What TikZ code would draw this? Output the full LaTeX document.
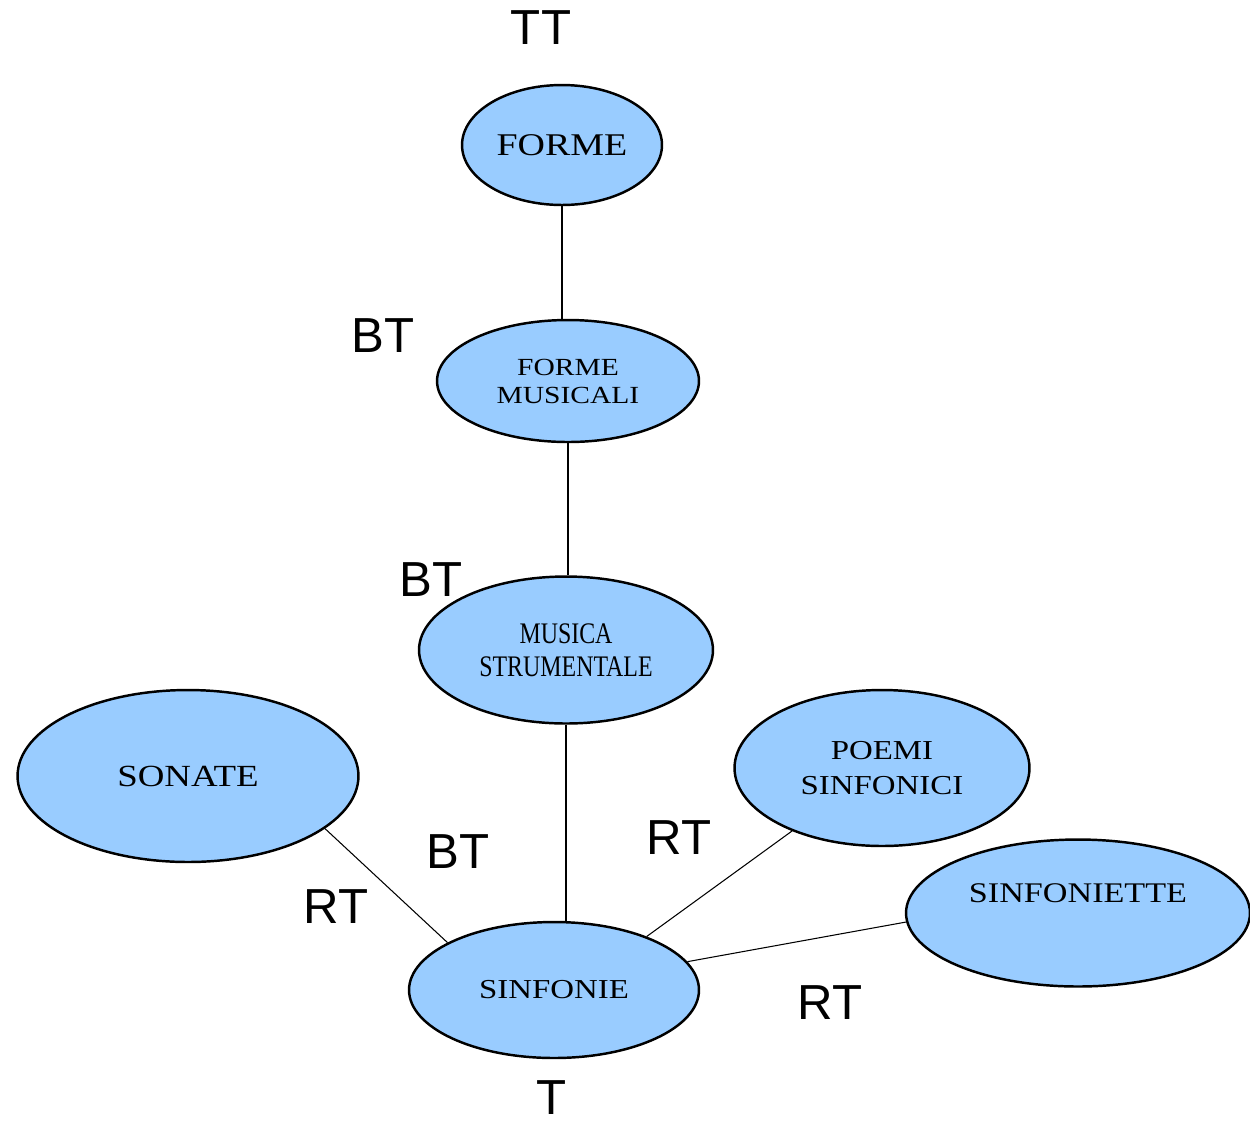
\documentclass[tikz,border=0pt]{standalone}
\usepackage{fontspec}
\usetikzlibrary{shapes.geometric}
\newfontfamily\nodefont[FakeStretch=1.2]{Liberation Serif}
\newfontfamily\narrowfont[FakeStretch=0.8]{Liberation Serif}
\newfontfamily\relfont{Liberation Sans}
\definecolor{termblue}{HTML}{99CCFF}
\tikzset{
  term/.style={ellipse, draw=black, line width=1.4pt, fill=termblue, inner sep=0pt, align=center, text=black},
  rel/.style={inner sep=0pt, font=\relfont\fontsize{28}{30}\selectfont},
  link/.style={line width=0.6pt}
}
\begin{document}
\begin{tikzpicture}[x=0.02cm,y=-0.02cm]
                    \useasboundingbox (0,0) rectangle (1250,1120);
                    \node[term, minimum width=4cm, minimum height=2.4cm, font=\nodefont\fontsize{18}{20}\selectfont] (forme) at (562,145) {FORME};
                    \node[term, minimum width=5.24cm, minimum height=2.44cm, font=\nodefont\fontsize{14}{15.9}\selectfont] (formemus) at (568,381) {FORME\\MUSICALI};
                    \node[term, minimum width=5.88cm, minimum height=2.94cm, font=\narrowfont\fontsize{17}{18.7}\selectfont] (musica) at (566,650) {MUSICA\\STRUMENTALE};
                    \node[term, minimum width=6.82cm, minimum height=3.44cm, font=\nodefont\fontsize{17.5}{19}\selectfont] (sonate) at (188,776) {SONATE};
                    \node[term, minimum width=5.9cm, minimum height=3.12cm, font=\nodefont\fontsize{15.6}{20.4}\selectfont] (poemi) at (882,768) {POEMI\\SINFONICI};
                    \node[term, minimum width=6.88cm, minimum height=2.94cm,
                          label={[font=\nodefont\fontsize{16.2}{18}\selectfont, yshift=0.4cm]center:SINFONIETTE}] (sinfoniette) at (1078,913) {};
                    \node[term, minimum width=5.8cm, minimum height=2.72cm, font=\nodefont\fontsize{15.6}{17}\selectfont] (sinfonie) at (554,990) {SINFONIE};
                    \draw[link] (forme) -- (forme |- formemus.north);
                    \draw[link] (formemus) -- (formemus |- musica.north);
                    \draw[link] (musica) -- (musica |- sinfonie.north);
                    \draw[link] (sonate.-21) -- (sinfonie.156);
                    \draw[link] (poemi.215) -- (sinfonie.30);
                    \draw[link] (sinfoniette.183) -- (sinfonie.12);
                    %relation labels
                    \node[rel] (tt) at (541,28) {TT};
                    \node[rel] (bt1) at (383,336) {BT};
                    \node[rel] (bt2) at (431,580) {BT};
                    \node[rel] (bt3) at (458,852) {BT};
                    \node[rel] (rt1) at (336,907) {RT};
                    \node[rel] (rt2) at (679,838) {RT};
                    \node[rel] (rt3) at (830,1003) {RT};
                    \node[rel] (t) at (552,1098) {T};
                \end{tikzpicture}
\end{document}
